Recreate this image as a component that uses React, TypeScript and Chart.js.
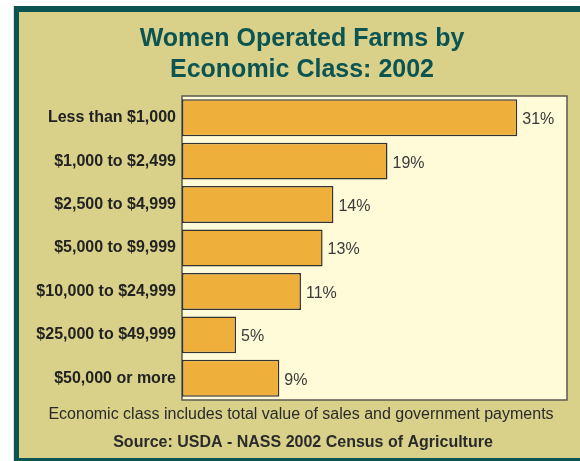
import React, { useEffect, useRef } from "react";
import { Chart, registerables } from "chart.js";

Chart.register(...registerables);

const titleLines = ["Women Operated Farms by", "Economic Class: 2002"];
const categories = [
  "Less than $1,000",
  "$1,000 to $2,499",
  "$2,500 to $4,999",
  "$5,000 to $9,999",
  "$10,000 to $24,999",
  "$25,000 to $49,999",
  "$50,000 or more",
];
const shares = [31, 19, 14, 13, 11, 5, 9];
const noteText = "Economic class includes total value of sales and government payments";
const sourceText = "Source: USDA - NASS 2002 Census of Agriculture";

const FONT = "'Liberation Sans', Arial, sans-serif";
const TEAL = "#0c5452";
const KHAKI = "#d9d089";
const PLOT_BG = "#fffad7";
const BAR = "#eeb03a";

const framePlugin = {
  id: "frame",
  beforeDraw(chart: any) {
    const { ctx, width, height, chartArea } = chart;
    ctx.save();
    ctx.fillStyle = "#ffffff";
    ctx.fillRect(0, 0, width, height);
    ctx.fillStyle = "#d8dcdc";
    ctx.fillRect(13, 6, 1, height);
    ctx.fillStyle = TEAL;
    ctx.fillRect(14, 6, width - 14, height - 6);
    ctx.fillStyle = KHAKI;
    ctx.fillRect(19, 12, width - 19, height - 12 - 3);
    // plot area
    ctx.fillStyle = PLOT_BG;
    ctx.fillRect(chartArea.left, chartArea.top, chartArea.right - chartArea.left, chartArea.bottom - chartArea.top);
    ctx.strokeStyle = "#5a5a50";
    ctx.lineWidth = 1.5;
    ctx.strokeRect(chartArea.left, chartArea.top, chartArea.right - chartArea.left, chartArea.bottom - chartArea.top);
    // title
    ctx.fillStyle = TEAL;
    ctx.font = `bold 25px ${FONT}`;
    ctx.textAlign = "center";
    ctx.textBaseline = "middle";
    ctx.fillText(titleLines[0], 302, 39);
    ctx.fillText(titleLines[1], 302, 70);
    // footer
    ctx.fillStyle = "#2a2a2a";
    ctx.font = `16px ${FONT}`;
    ctx.fillText(noteText, 301, 415);
    ctx.font = `bold 16px ${FONT}`;
    ctx.fillText(sourceText, 303, 443);
    ctx.restore();
  },
  afterDatasetsDraw(chart: any) {
    const { ctx } = chart;
    const meta = chart.getDatasetMeta(0);
    ctx.save();
    ctx.fillStyle = "#3a3a3a";
    ctx.font = `16px ${FONT}`;
    ctx.textAlign = "left";
    ctx.textBaseline = "middle";
    meta.data.forEach((el: any, i: number) => {
      ctx.fillText(`${shares[i]}%`, el.x + 5, el.y + 2);
    });
    ctx.restore();
  },
};

export default function App() {
  const ref = useRef<HTMLCanvasElement>(null);
  useEffect(() => {
    const chart = new Chart(ref.current!, {
      type: "bar",
      data: {
        labels: categories,
        datasets: [
          {
            data: shares,
            backgroundColor: BAR,
            borderColor: "#333333",
            borderWidth: 1.5,
            borderSkipped: false,
            barPercentage: 0.85,
            categoryPercentage: 1,
          },
        ],
      },
      options: {
        indexAxis: "y",
        animation: false,
        responsive: false,
        devicePixelRatio: 1,
        layout: { padding: { left: 0, top: 96, right: 13, bottom: 61 } },
        plugins: { legend: { display: false }, tooltip: { enabled: false }, title: { display: false } },
        scales: {
          x: { display: false, min: 0, max: 35.6 },
          y: {
            afterFit(scale: any) {
              scale.width = 182;
            },
            grid: { display: false, drawTicks: false },
            border: { display: false },
            ticks: {
              padding: 6,
              color: "#222222",
              font: { family: FONT, size: 16, weight: "bold" },
            },
          },
        },
      },
      plugins: [framePlugin],
    });
    return () => chart.destroy();
  }, []);
  return (
    <div style={{ position: "absolute", left: 0, top: 0, width: 580, height: 461 }}>
      <canvas ref={ref} width={580} height={461} style={{ display: "block" }} />
    </div>
  );
}
